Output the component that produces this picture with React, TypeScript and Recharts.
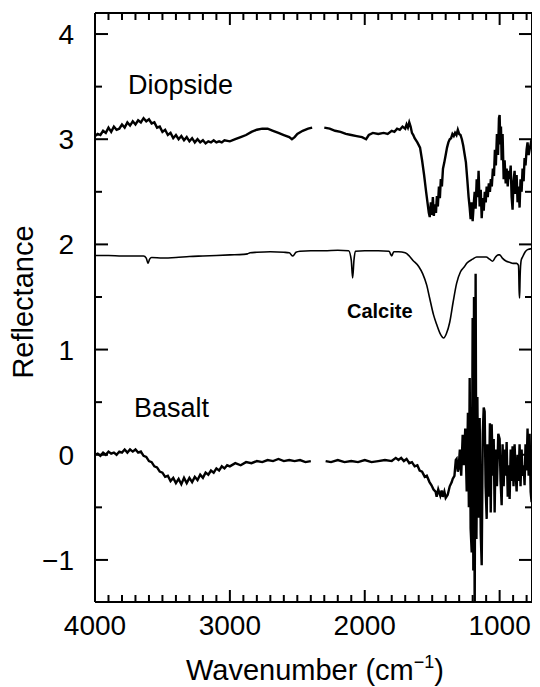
import * as React from "react";
import { LineChart, Line, XAxis, YAxis, Customized } from "recharts";

// wavenumber (cm-1), reflectance (offset)
const diopside: Array<[number, number | null]> = [
  [4000, 3.03], [3980, 3.05], [3960, 3.04], [3940, 3.08], [3920, 3.06], [3900, 3.11],
  [3880, 3.07], [3860, 3.12], [3840, 3.09], [3820, 3.1], [3800, 3.14], [3780, 3.11],
  [3760, 3.16], [3740, 3.13], [3720, 3.17], [3700, 3.14], [3680, 3.18], [3660, 3.16],
  [3640, 3.2], [3620, 3.17], [3600, 3.19], [3580, 3.15], [3560, 3.16], [3540, 3.11],
  [3520, 3.12], [3500, 3.07], [3480, 3.09], [3460, 3.04], [3440, 3.06], [3420, 3.01],
  [3400, 3.04], [3380, 3.0], [3360, 3.03], [3340, 2.99], [3320, 3.02], [3300, 2.98],
  [3280, 3.01], [3260, 2.97], [3240, 3.0], [3220, 2.97], [3200, 2.99], [3180, 2.96],
  [3160, 2.98], [3140, 2.97], [3120, 2.99], [3100, 2.97], [3080, 2.98], [3060, 2.97],
  [3040, 2.99], [3000, 2.98], [2960, 3.0], [2920, 3.02], [2880, 3.04], [2840, 3.07],
  [2800, 3.09], [2760, 3.1], [2720, 3.1], [2680, 3.08], [2640, 3.06], [2600, 3.04],
  [2560, 3.02], [2540, 3.0], [2520, 3.02], [2500, 3.05], [2460, 3.08], [2420, 3.1],
  [2390, 3.11], [2350, null], [2300, 3.11], [2260, 3.1], [2220, 3.08], [2180, 3.07],
  [2140, 3.05], [2100, 3.04], [2060, 3.03], [2020, 3.02], [1990, 3.0], [1970, 3.04],
  [1940, 3.06], [1900, 3.05], [1860, 3.06], [1830, 3.05], [1800, 3.08], [1780, 3.07],
  [1760, 3.1], [1740, 3.09], [1720, 3.12], [1700, 3.1], [1690, 3.14], [1680, 3.11],
  [1670, 3.16], [1660, 3.12], [1650, 3.06], [1640, 3.04], [1630, 3.01], [1610, 2.97],
  [1590, 2.92], [1575, 2.8], [1560, 2.66], [1545, 2.5], [1535, 2.4], [1525, 2.3],
  [1518, 2.26], [1510, 2.4], [1503, 2.28], [1495, 2.45], [1488, 2.27], [1480, 2.38],
  [1472, 2.3], [1465, 2.46], [1458, 2.36], [1450, 2.55], [1443, 2.44], [1436, 2.62],
  [1428, 2.55], [1420, 2.72], [1410, 2.78], [1400, 2.85], [1390, 2.92], [1380, 2.97],
  [1370, 3.0], [1360, 3.01], [1350, 3.05], [1340, 3.03], [1330, 3.06], [1320, 3.04],
  [1310, 3.09], [1300, 3.05], [1290, 3.04], [1280, 3.0], [1270, 2.94], [1260, 2.86],
  [1250, 2.78], [1240, 2.62], [1230, 2.45], [1222, 2.35], [1215, 2.24], [1208, 2.4],
  [1200, 2.22], [1192, 2.38], [1185, 2.5], [1178, 2.34], [1170, 2.62], [1163, 2.45],
  [1156, 2.7], [1148, 2.36], [1140, 2.52], [1133, 2.25], [1125, 2.44], [1118, 2.32],
  [1110, 2.5], [1103, 2.4], [1096, 2.55], [1088, 2.45], [1080, 2.58], [1072, 2.5],
  [1065, 2.62], [1058, 2.55], [1050, 2.72], [1042, 2.65], [1035, 2.9], [1028, 2.75],
  [1020, 3.05], [1012, 2.85], [1005, 3.2], [1000, 3.23], [995, 2.95], [990, 3.12],
  [985, 2.8], [978, 3.05], [970, 2.62], [963, 2.8], [955, 2.58], [948, 2.72],
  [940, 2.55], [933, 2.7], [926, 2.62], [918, 2.75], [911, 2.45], [904, 2.33],
  [897, 2.6], [889, 2.7], [882, 2.48], [874, 2.66], [867, 2.4], [860, 2.55],
  [852, 2.35], [845, 2.62], [837, 2.5], [830, 2.72], [822, 2.6], [815, 2.82],
  [808, 2.75], [800, 2.9], [793, 2.97], [785, 2.85], [775, 2.92], [763, 3.0],
];

const calcite: Array<[number, number]> = [
  [4000, 1.895], [3900, 1.895], [3800, 1.89], [3700, 1.89], [3640, 1.89], [3620, 1.87],
  [3607, 1.82], [3595, 1.86], [3580, 1.875], [3500, 1.87], [3400, 1.875], [3300, 1.885],
  [3200, 1.89], [3100, 1.895], [3000, 1.9], [2900, 1.905], [2870, 1.91], [2850, 1.92],
  [2800, 1.925], [2700, 1.93], [2600, 1.925], [2560, 1.92], [2533, 1.89], [2510, 1.925],
  [2480, 1.935], [2400, 1.94], [2300, 1.94], [2200, 1.945], [2120, 1.94], [2100, 1.85],
  [2090, 1.68], [2080, 1.85], [2070, 1.935], [2000, 1.94], [1900, 1.94], [1820, 1.935],
  [1800, 1.89], [1785, 1.93], [1750, 1.93], [1700, 1.92], [1670, 1.89], [1644, 1.85],
  [1600, 1.79], [1570, 1.72], [1540, 1.61], [1519, 1.49], [1490, 1.33], [1467, 1.24],
  [1440, 1.15], [1415, 1.11], [1395, 1.15], [1370, 1.26], [1345, 1.45], [1319, 1.63],
  [1290, 1.74], [1260, 1.79], [1244, 1.82], [1200, 1.86], [1170, 1.88], [1100, 1.88],
  [1075, 1.86], [1052, 1.84], [1030, 1.88], [1010, 1.9], [1000, 1.9], [980, 1.87],
  [950, 1.84], [926, 1.83], [900, 1.82], [874, 1.82], [860, 1.8], [855, 1.55],
  [852, 1.49], [848, 1.7], [840, 1.85], [830, 1.88], [810, 1.93], [793, 1.95],
  [763, 1.96],
];

const basalt: Array<[number, number | null]> = [
  [4000, 0.0], [3980, 0.01], [3960, -0.01], [3940, 0.02], [3920, 0.0], [3900, 0.03],
  [3880, 0.01], [3860, 0.02], [3840, 0.0], [3820, 0.03], [3800, 0.02], [3780, 0.05],
  [3760, 0.02], [3740, 0.05], [3720, 0.03], [3700, 0.05], [3680, 0.02], [3660, 0.03],
  [3640, -0.01], [3620, -0.02], [3600, -0.06], [3580, -0.07], [3560, -0.11], [3540, -0.12],
  [3520, -0.16], [3500, -0.17], [3480, -0.21], [3460, -0.2], [3440, -0.25], [3420, -0.22],
  [3400, -0.27], [3380, -0.23], [3360, -0.28], [3340, -0.22], [3320, -0.27], [3300, -0.22],
  [3280, -0.26], [3260, -0.21], [3240, -0.24], [3220, -0.19], [3200, -0.22], [3180, -0.17],
  [3160, -0.19], [3140, -0.15], [3120, -0.17], [3100, -0.13], [3080, -0.15], [3060, -0.11],
  [3040, -0.13], [3020, -0.1], [3000, -0.11], [2960, -0.08], [2920, -0.1], [2880, -0.07],
  [2840, -0.08], [2800, -0.06], [2760, -0.07], [2720, -0.05], [2680, -0.06], [2640, -0.04],
  [2600, -0.06], [2560, -0.05], [2520, -0.06], [2480, -0.05], [2440, -0.07], [2400, -0.06],
  [2350, null], [2290, -0.06], [2250, -0.07], [2200, -0.05], [2150, -0.07], [2100, -0.06],
  [2050, -0.07], [2000, -0.05], [1950, -0.07], [1900, -0.06], [1850, -0.05], [1800, -0.06],
  [1770, -0.03], [1750, -0.05], [1730, -0.03], [1710, -0.06], [1690, -0.04], [1670, -0.08],
  [1650, -0.07], [1630, -0.11], [1610, -0.1], [1593, -0.15], [1575, -0.16], [1555, -0.21],
  [1540, -0.2], [1520, -0.26], [1505, -0.29], [1490, -0.33], [1475, -0.35], [1467, -0.4],
  [1455, -0.33], [1440, -0.39], [1430, -0.34], [1422, -0.4], [1410, -0.35], [1400, -0.41],
  [1385, -0.38], [1370, -0.3], [1355, -0.26], [1348, -0.23], [1335, -0.2], [1325, -0.05],
  [1319, -0.04], [1310, -0.16], [1304, -0.13], [1295, 0.05], [1285, -0.2], [1274, 0.19],
  [1265, -0.1], [1255, 0.25], [1244, -0.35], [1235, 0.4], [1228, -0.5], [1222, 0.73],
  [1215, -0.7], [1207, -0.93], [1200, 1.3], [1195, -1.1], [1190, 1.5], [1185, -1.6],
  [1178, 1.72], [1172, -0.8], [1165, 0.55], [1158, -0.6], [1148, 0.35], [1140, -0.75],
  [1133, -1.05], [1125, 0.2], [1118, 0.45], [1111, 0.41], [1104, -0.3], [1096, -0.61],
  [1090, 0.1], [1080, -0.4], [1072, 0.3], [1066, -0.55], [1059, 0.29], [1050, -0.2],
  [1044, 0.15], [1037, -0.55], [1030, 0.05], [1020, -0.3], [1010, 0.2], [1000, 0.15],
  [993, -0.25], [985, -0.48], [978, 0.1], [970, -0.3], [963, 0.05], [955, -0.2],
  [948, 0.12], [940, -0.4], [933, -0.1], [926, -0.42], [918, 0.05], [911, -0.25],
  [904, 0.08], [897, -0.3], [889, 0.1], [882, -0.15], [874, -0.35], [867, 0.0],
  [860, -0.25], [852, 0.1], [845, -0.3], [837, 0.05], [830, -0.2], [822, -0.1],
  [815, -0.29], [808, 0.1], [800, -0.15], [793, 0.25], [785, -0.2], [778, 0.2],
  [770, -0.35], [763, -0.45],
];

const xTicks = [
  800, 900, 1000, 1100, 1200, 1300, 1400, 1500, 1600, 1700, 1800, 1900, 2000,
  2100, 2200, 2300, 2400, 2500, 2600, 2700, 2800, 2900, 3000, 3100, 3200, 3300,
  3400, 3500, 3600, 3700, 3800, 3900, 4000,
];
const yTicks = [-1, -0.5, 0, 0.5, 1, 1.5, 2, 2.5, 3, 3.5, 4];

const toPoints = (rows: Array<[number, number | null]>) =>
  rows.map(([x, y]) => ({ x, y }));

const FONT = "'Liberation Sans', Arial, Helvetica, sans-serif";

const fmt = (v: number) => (v < 0 ? `\u2212${Math.abs(v)}` : `${v}`);

const BottomTick = (props: any) => {
  const { x, y, payload } = props;
  const major = payload.value % 1000 === 0;
  return (
    <g>
      <line x1={x} x2={x} y1={y} y2={y - (major ? 12 : 7)} stroke="#000" strokeWidth={2} />
      {major ? (
        <text x={x} y={y + 33} textAnchor="middle" fontSize={28} fontFamily={FONT} fill="#000">
          {payload.value}
        </text>
      ) : null}
    </g>
  );
};

const TopTick = (props: any) => {
  const { x, y, payload } = props;
  const major = payload.value % 1000 === 0;
  return (
    <g>
      <line x1={x} x2={x} y1={y} y2={y + (major ? 12 : 7)} stroke="#000" strokeWidth={2} />
    </g>
  );
};

const LeftTick = (props: any) => {
  const { x, y, payload } = props;
  const major = Number.isInteger(payload.value);
  return (
    <g>
      <line x1={x} x2={x + (major ? 13 : 7)} y1={y} y2={y} stroke="#000" strokeWidth={2} />
      {major ? (
        <text x={x - 21} y={y + 10} textAnchor="end" fontSize={28} fontFamily={FONT} fill="#000">
          {fmt(payload.value)}
        </text>
      ) : null}
    </g>
  );
};

const RightTick = (props: any) => {
  const { x, y, payload } = props;
  const major = Number.isInteger(payload.value);
  return (
    <g>
      <line x1={x} x2={x - (major ? 13 : 7)} y1={y} y2={y} stroke="#000" strokeWidth={2} />
    </g>
  );
};

const Labels = () => (
  <g fontFamily={FONT} fill="#000">
    <text x={120} y={86} fontSize={27}>Diopside</text>
    <text x={126} y={409} fontSize={27}>Basalt</text>
    <text x={339} y={310} fontSize={20} fontWeight="bold">Calcite</text>
    <text x={15} y={294} fontSize={29} textAnchor="middle" transform="rotate(-90 15 294)" dominantBaseline="central">
      Reflectance
    </text>
    <text x={307} y={672} fontSize={29} textAnchor="middle">
      Wavenumber (cm
      <tspan fontSize={18} dy={-12}>{"\u22121"}</tspan>
      <tspan dy={12}>)</tspan>
    </text>
  </g>
);

export default function App() {
  return (
    <LineChart width={532} height={679} margin={{ top: 4, right: 7, bottom: 0, left: 0 }}>
      <XAxis
        dataKey="x"
        type="number"
        domain={[760, 4000]}
        reversed
        allowDataOverflow
        ticks={xTicks}
        interval={0}
        height={85}
        tickSize={0}
        tickMargin={0}
        tickLine={false}
        tick={BottomTick}
        axisLine={{ stroke: "#000", strokeWidth: 2 }}
      />
      <XAxis
        xAxisId="top"
        orientation="top"
        dataKey="x"
        type="number"
        domain={[760, 4000]}
        reversed
        allowDataOverflow
        ticks={xTicks}
        interval={0}
        height={1}
        tickSize={0}
        tickMargin={0}
        tickLine={false}
        tick={TopTick}
        axisLine={{ stroke: "#000", strokeWidth: 2 }}
      />
      <YAxis
        type="number"
        domain={[-1.4, 4.2]}
        allowDataOverflow
        ticks={yTicks}
        interval={0}
        width={87}
        tickSize={0}
        tickMargin={0}
        tickLine={false}
        tick={LeftTick}
        axisLine={{ stroke: "#000", strokeWidth: 2 }}
      />
      <YAxis
        yAxisId="right"
        orientation="right"
        type="number"
        domain={[-1.4, 4.2]}
        allowDataOverflow
        ticks={yTicks}
        interval={0}
        width={1}
        tickSize={0}
        tickMargin={0}
        tickLine={false}
        tick={RightTick}
        axisLine={{ stroke: "#000", strokeWidth: 2 }}
      />
      <Line
        data={toPoints(diopside)}
        dataKey="y"
        type="linear"
        stroke="#000"
        strokeWidth={2.4}
        dot={false}
        connectNulls={false}
        isAnimationActive={false}
      />
      <Line
        data={toPoints(calcite)}
        dataKey="y"
        type="monotone"
        stroke="#000"
        strokeWidth={1.6}
        dot={false}
        isAnimationActive={false}
      />
      <Line
        data={toPoints(basalt)}
        dataKey="y"
        type="linear"
        stroke="#000"
        strokeWidth={2.4}
        dot={false}
        connectNulls={false}
        isAnimationActive={false}
      />
      <Customized component={Labels} />
    </LineChart>
  );
}
